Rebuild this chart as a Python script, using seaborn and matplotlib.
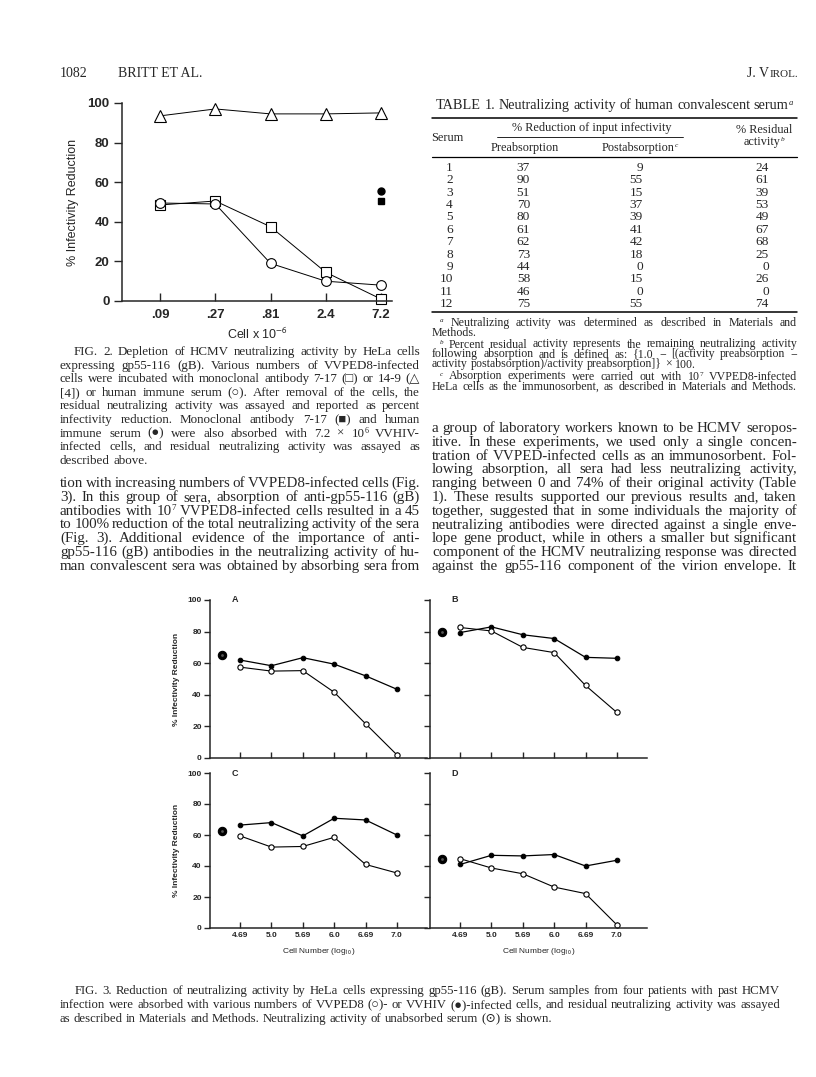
import numpy as np
import matplotlib
matplotlib.use('Agg')
import matplotlib.pyplot as plt
import seaborn as sns

# Fig. 2 values (% infectivity reduction)
fig2_cells = ['.09', '.27', '.81', '2.4', '7.2']
mab_14_9 = [93.5, 97, 94.5, 94.5, 95]          # open triangles
mab_7_17 = [48.5, 50.5, 37.5, 14.5, 1]         # open squares
immune_serum = [49.5, 49, 19, 10, 8]           # open circles
vvhiv_serum = 55.5                              # filled circle at 7.2
vvhiv_mab = 50.5                                # filled square at 7.2

# Fig. 3 values
fig3_cells = ['4.69', '5.0', '5.69', '6.0', '6.69', '7.0']
vvhiv_A = [62, 58.4, 63.5, 59.4, 52, 43.5]
vvped8_A = [57.5, 55, 55.3, 41.6, 21.7, 2]
unabs_A = 65.2
vvhiv_B = [79.4, 83, 78, 75.6, 63.7, 63.1]
vvped8_B = [82.6, 80.4, 70, 66.7, 45.9, 28.8]
unabs_B = 80
vvhiv_C = [66.4, 68, 59.4, 70.8, 69.7, 60]
vvped8_C = [59.4, 52.2, 52.6, 58.5, 41, 35.5]
unabs_C = 62.3
vvhiv_D = [41, 46.9, 46.5, 47.4, 40, 43.7]
vvped8_D = [44.7, 38.7, 35, 26.4, 22.2, 2]
unabs_D = 44.3

# Table 1
serum_no = [1, 2, 3, 4, 5, 6, 7, 8, 9, 10, 11, 12]
pre_abs = [37, 90, 51, 70, 80, 61, 62, 73, 44, 58, 46, 75]
post_abs = [9, 55, 15, 37, 39, 41, 42, 18, 0, 15, 0, 55]
residual = [24, 61, 39, 53, 49, 67, 68, 25, 0, 26, 0, 74]

sns.set_theme(style='ticks')
SERIF = ['Liberation Serif', 'DejaVu Serif']
SANS = ['Liberation Sans', 'DejaVu Sans']
plt.rcParams['font.family'] = SERIF
plt.rcParams['mathtext.fontset'] = 'stix'

W, H = 816, 1077
fig = plt.figure(figsize=(W / 100, H / 100), dpi=100)
fig.patch.set_facecolor('white')
page = fig.add_axes([0, 0, 1, 1])
page.set_xlim(0, W)
page.set_ylim(H, 0)
page.axis('off')
renderer = fig.canvas.get_renderer()


def px_axes(l, t, r, b):
    return fig.add_axes([l / W, 1 - b / H, (r - l) / W, (b - t) / H])


def make_word(w, size, y):
    # "base^sup" -> base text plus a small raised text
    em = size * 100 / 72
    if '^' in w:
        base, sup = w.split('^', 1)
    else:
        base, sup = w, ''
    parts = []
    if base:
        parts.append(page.text(0, y, base, fontsize=size, family=SERIF, va='baseline'))
    if sup:
        style = 'italic' if sup.isalpha() else 'normal'
        parts.append(page.text(0, y - 0.3 * em, sup, fontsize=size * 0.6, family=SERIF,
                               style=style, va='baseline'))
    return parts


def word_width(parts):
    return sum(t.get_window_extent(renderer).width for t in parts)


def place_word(parts, x):
    for t in parts:
        t.set_x(x)
        x += t.get_window_extent(renderer).width
    return x


def put_line(x0, x1, y, s, size, justify=True, align='left'):
    words = [make_word(w, size, y) for w in s.split()]
    widths = [word_width(p) for p in words]
    em = size * 100 / 72
    if justify and len(words) > 1:
        min_gap = 0.16 * em
        if sum(widths) + min_gap * (len(words) - 1) > x1 - x0:
            scale = (x1 - x0 - min_gap * (len(words) - 1)) / sum(widths)
            for p in words:
                for t in p:
                    t.set_fontsize(t.get_fontsize() * scale)
            widths = [word_width(p) for p in words]
        gap = (x1 - x0 - sum(widths)) / (len(words) - 1)
    else:
        gap = 0.25 * em
    total = sum(widths) + gap * (len(words) - 1)
    x = x0 if align == 'left' else (x0 + x1) / 2 - total / 2
    for p, w in zip(words, widths):
        place_word(p, x)
        x += w + gap


def paragraph(x0, x1, y0, step, lines, size, indent=0, last_full=False):
    for i, s in enumerate(lines):
        full = last_full or i < len(lines) - 1
        put_line(x0 + (indent if i == 0 else 0), x1, y0 + i * step, s, size, justify=full)


# running head
page.text(60, 77, '1082', fontsize=10, va='baseline')
page.text(118, 77, 'BRITT ET AL.', fontsize=10, va='baseline')
t = page.text(798, 77, 'IROL.', fontsize=8, va='baseline', ha='right')
w = t.get_window_extent(renderer).width
page.text(798 - w, 77, 'J. V', fontsize=10, va='baseline', ha='right')

# ---------------- Fig. 2 ----------------
ax2 = px_axes(122, 103, 392, 301)
x2 = np.arange(len(fig2_cells))
for vals, mk, ms in [(mab_14_9, '^', 8), (mab_7_17, 's', 6.5), (immune_serum, 'o', 7)]:
    sns.lineplot(x=x2, y=vals, ax=ax2, color='black', lw=0.7, marker=mk, markersize=ms,
                 markerfacecolor='white', markeredgecolor='black', markeredgewidth=0.8,
                 clip_on=False)
ax2.plot([x2[-1]], [vvhiv_serum], 'o', color='black', ms=5, clip_on=False)
ax2.plot([x2[-1]], [vvhiv_mab], 's', color='black', ms=5, clip_on=False)
ax2.set_xlim(-0.69, 4.2)
ax2.set_ylim(0, 100)
ax2.set_xticks(x2)
ax2.set_xticklabels(fig2_cells)
ax2.set_yticks([0, 20, 40, 60, 80, 100])
ax2.tick_params(axis='y', direction='out', length=6, width=1, pad=3, labelsize=9.5)
ax2.tick_params(axis='x', direction='in', length=6, width=1, pad=6, labelsize=9.5)
for lab in ax2.get_xticklabels() + ax2.get_yticklabels():
    lab.set_family(SANS)
    lab.set_fontweight('bold')
ax2.set_ylabel('% Infectivity Reduction', family=SANS, fontsize=9, labelpad=6)
ax2.set_xlabel('Cell x 10$^{\\mathsf{-6}}$', family=SANS, fontsize=9, labelpad=4)
sns.despine(ax=ax2)
for sp in ax2.spines.values():
    sp.set_linewidth(1.1)
ax2.set_facecolor('none')

# Fig. 2 legend
fig2_caption = [
    'FIG. 2. Depletion of HCMV neutralizing activity by HeLa cells',
    'expressing gp55-116 (gB). Various numbers of VVPED8-infected',
    'cells were incubated with monoclonal antibody 7-17 (\u25a1) or 14-9 (\u25b3',
    '[4]) or human immune serum (\u25cb). After removal of the cells, the',
    'residual neutralizing activity was assayed and reported as percent',
    'infectivity reduction. Monoclonal antibody 7-17 (\u25a0) and human',
    'immune serum (\u25cf) were also absorbed with 7.2 \u00d7 10^6 VVHIV-',
    'infected cells, and residual neutralizing activity was assayed as',
    'described above.',
]
paragraph(60, 420, 355, 13.6, fig2_caption, 9.4, indent=14)

body_left = [
    'tion with increasing numbers of VVPED8-infected cells (Fig.',
    '3). In this group of sera, absorption of anti-gp55-116 (gB)',
    'antibodies with 10^7 VVPED8-infected cells resulted in a 45',
    'to 100% reduction of the total neutralizing activity of the sera',
    '(Fig. 3). Additional evidence of the importance of anti-',
    'gp55-116 (gB) antibodies in the neutralizing activity of hu-',
    'man convalescent sera was obtained by absorbing sera from',
]
paragraph(60, 420, 487, 13.8, body_left, 10.8, last_full=True)

# ---------------- Table 1 ----------------
put_line(432, 797, 109, 'TABLE 1. Neutralizing activity of human convalescent serum^a', 10.3,
         justify=False, align='center')
page.plot([432, 797], [118, 118], color='black', lw=1.1)
page.text(592, 131, '% Reduction of input infectivity', fontsize=8.8, ha='center', va='baseline')
page.plot([497, 683], [137, 137], color='black', lw=0.6)
page.text(447, 141, 'Serum', fontsize=8.8, ha='center', va='baseline')
page.text(525, 151, 'Preabsorption', fontsize=8.8, ha='center', va='baseline')
put_line(600, 680, 151, 'Postabsorption^c', 8.8, justify=False, align='center')
page.text(764, 133, '% Residual', fontsize=8.8, ha='center', va='baseline')
put_line(730, 798, 145, 'activity^b', 8.8, justify=False, align='center')
page.plot([432, 797], [157, 157], color='black', lw=0.9)
for i in range(len(serum_no)):
    yy = 171 + i * 12.36
    page.text(453, yy, str(serum_no[i]), fontsize=9.6, ha='right', va='baseline')
    page.text(530, yy, str(pre_abs[i]), fontsize=9.6, ha='right', va='baseline')
    page.text(643, yy, str(post_abs[i]), fontsize=9.6, ha='right', va='baseline')
    page.text(769, yy, str(residual[i]), fontsize=9.6, ha='right', va='baseline')
page.plot([432, 797], [312, 312], color='black', lw=1.1)

notes = [
    ('^a Neutralizing activity was determined as described in Materials and', 326, True),
    ('Methods.', 336, False),
    ('^b Percent residual activity represents the remaining neutralizing activity', 347.5, True),
    ('following absorption and is defined as: {1.0 \u2212 [(activity preabsorption \u2212', 357.5, True),
    ('activity postabsorption)/activity preabsorption]} \u00d7 100.', 367.5, False),
    ('^c Absorption experiments were carried out with 10^7 VVPED8-infected', 379.5, True),
    ('HeLa cells as the immunosorbent, as described in Materials and Methods.', 389.5, True),
]
for s, yy, full in notes:
    x0 = 440 if s.startswith('^') else 432
    put_line(x0, 797, yy, s, 8.6, justify=full)

body_right = [
    'a group of laboratory workers known to be HCMV seropos-',
    'itive. In these experiments, we used only a single concen-',
    'tration of VVPED-infected cells as an immunosorbent. Fol-',
    'lowing absorption, all sera had less neutralizing activity,',
    'ranging between 0 and 74% of their original activity (Table',
    '1). These results supported our previous results and, taken',
    'together, suggested that in some individuals the majority of',
    'neutralizing antibodies were directed against a single enve-',
    'lope gene product, while in others a smaller but significant',
    'component of the HCMV neutralizing response was directed',
    'against the gp55-116 component of the virion envelope. It',
]
paragraph(432, 797, 432, 13.8, body_right, 10.8, last_full=True)

# ---------------- Fig. 3 ----------------
boxes = {'A': (210, 600, 427, 758), 'B': (430, 600, 647, 758),
         'C': (210, 773, 427, 928), 'D': (430, 773, 647, 928)}
filled = {'A': vvhiv_A, 'B': vvhiv_B, 'C': vvhiv_C, 'D': vvhiv_D}
opened = {'A': vvped8_A, 'B': vvped8_B, 'C': vvped8_C, 'D': vvped8_D}
unabs = {'A': unabs_A, 'B': unabs_B, 'C': unabs_C, 'D': unabs_D}
x3 = np.arange(len(fig3_cells))

for p in ['A', 'B', 'C', 'D']:
    ax = px_axes(*boxes[p])
    ax.set_facecolor('none')
    sns.lineplot(x=x3, y=filled[p], ax=ax, color='black', lw=0.9, marker='o', markersize=3.3,
                 markerfacecolor='black', markeredgecolor='black', clip_on=False)
    sns.lineplot(x=x3, y=opened[p], ax=ax, color='black', lw=0.8, marker='o', markersize=3.8,
                 markerfacecolor='white', markeredgecolor='black', markeredgewidth=0.8,
                 clip_on=False)
    ax.plot([-0.57], [unabs[p]], 'o', ms=6, mfc='black', mec='black', mew=0.8, clip_on=False)
    ax.plot([-0.57], [unabs[p]], 'o', ms=2, mfc='#555555', mec='none', clip_on=False)
    ax.set_xlim(-0.96, 5.96)
    ax.set_ylim(0, 100)
    ax.set_xticks(x3)
    ax.set_yticks([0, 20, 40, 60, 80, 100])
    ax.tick_params(axis='y', direction='out', length=4, width=1, pad=2, labelsize=6)
    ax.tick_params(axis='x', direction='in', length=4, width=1, pad=3, labelsize=6)
    if p in 'CD':
        ax.set_xticklabels(fig3_cells)
        ax.set_xlabel('Cell Number (log$_{\\mathsf{10}}$)', family=SANS, fontsize=6, labelpad=5)
    else:
        ax.set_xticklabels([])
    if p in 'AC':
        ax.set_ylabel('% Infectivity Reduction', family=SANS, fontsize=6, fontweight='bold', labelpad=5)
    else:
        ax.set_yticklabels([])
    for lab in ax.get_xticklabels() + ax.get_yticklabels():
        lab.set_family(SANS)
        lab.set_fontweight('bold')
    ax.text(0.1, 1.0, p, transform=ax.transAxes, family=SANS, fontsize=6.5,
            fontweight='bold', va='center', ha='left')
    sns.despine(ax=ax)
    for sp in ax.spines.values():
        sp.set_linewidth(1.1)

fig3_caption = [
    'FIG. 3. Reduction of neutralizing activity by HeLa cells expressing gp55-116 (gB). Serum samples from four patients with past HCMV',
    'infection were absorbed with various numbers of VVPED8 (\u25cb)- or VVHIV (\u25cf)-infected cells, and residual neutralizing activity was assayed',
    'as described in Materials and Methods. Neutralizing activity of unabsorbed serum (\u2299) is shown.',
]
paragraph(60, 780, 994, 14, fig3_caption, 9.2, indent=15)

fig.savefig('out.png', dpi=100, facecolor='white')
